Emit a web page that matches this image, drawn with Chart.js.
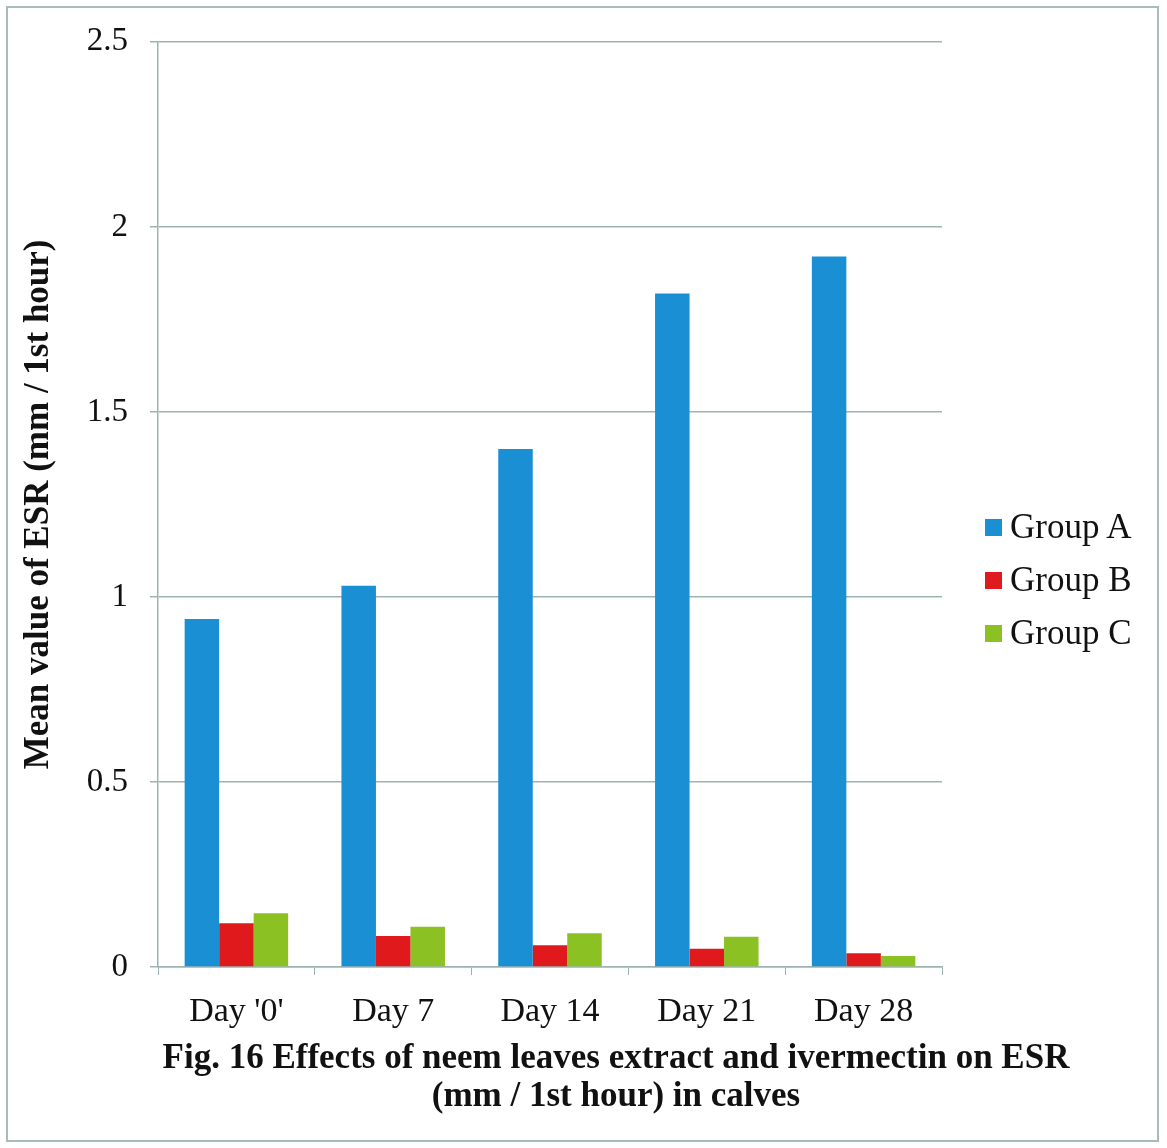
<!DOCTYPE html>
<html>
<head>
<meta charset="utf-8">
<script src="https://cdn.jsdelivr.net/npm/chart.js@4.4.1/dist/chart.umd.min.js"></script>
<style>
  html, body { margin: 0; padding: 0; background: #fff; }
  #wrap { position: relative; width: 1167px; height: 1148px; }
  #frame { position: absolute; left: 6px; top: 6px; width: 1153px; height: 1136px; border: 2px solid #a9bcbc; box-sizing: border-box; pointer-events: none; }
  #legend { position: absolute; left: 985px; top: 500px; font-family: "Liberation Serif", "Times New Roman", serif; font-size: 35px; color: #111; }
  #legend div { height: 53px; line-height: 53px; white-space: nowrap; }
  #legend span.sw { display: inline-block; width: 17px; height: 17px; margin-right: 8px; vertical-align: 2px; }
  #caption { position: absolute; left: 66px; width: 1100px; top: 1038px; text-align: center; font-family: "Liberation Serif", "Times New Roman", serif; font-weight: bold; font-size: 35px; line-height: 38px; color: #111; white-space: nowrap; }
</style>
</head>
<body>
<div id="wrap">
  <canvas id="chart" width="1167" height="1148"></canvas>
  <div id="legend"></div>
  <div id="caption">Fig. 16 Effects of neem leaves extract and ivermectin on ESR<br>(mm / 1st hour) in calves</div>
  <div id="frame"></div>
</div>
<script>
// ============================================================================
// DATA
// ============================================================================

const days = ["Day '0'", 'Day 7', 'Day 14', 'Day 21', 'Day 28'];
const groupA = [0.94, 1.03, 1.40, 1.82, 1.92];
const groupB = [0.118, 0.084, 0.059, 0.049, 0.037];
const groupC = [0.145, 0.109, 0.091, 0.082, 0.030];
const seriesNames = ['Group A', 'Group B', 'Group C'];
const seriesColors = ['#1b8fd4', '#e01a1c', '#8cc123'];
const yTicks = [0, 0.5, 1, 1.5, 2, 2.5];

const gridColor = '#9db3b2';
const serif = '"Liberation Serif", "Times New Roman", serif';

// ============================================================================
// CHART
// ============================================================================

const seriesData = [groupA, groupB, groupC];

const ctx = document.getElementById('chart').getContext('2d');
const chart = new Chart(ctx, {
    type: 'bar',
    data: {
        labels: days,
        datasets: seriesNames.map((name, i) => ({
            label: name,
            data: seriesData[i],
            backgroundColor: seriesColors[i],
            borderWidth: 0,
            barPercentage: 1,
            categoryPercentage: 0.66
        }))
    },
    options: {
        responsive: false,
        animation: false,
        layout: {
            padding: { left: 18, right: 225, top: 40, bottom: 101 }
        },
        plugins: {
            legend: { display: false },
            tooltip: { enabled: false },
            title: { display: false }
        },
        scales: {
            x: {
                afterFit: scale => { scale.height = 80; },
                grid: {
                    display: true,
                    offset: true,
                    drawOnChartArea: false,
                    drawTicks: true,
                    tickLength: 8,
                    color: gridColor
                },
                border: { display: true, color: gridColor, width: 1.5 },
                ticks: {
                    color: '#111',
                    font: { family: serif, size: 34 },
                    padding: 17
                }
            },
            y: {
                min: 0,
                max: 2.5,
                afterFit: scale => { scale.width = 140; },
                afterBuildTicks: axis => {
                    axis.ticks = yTicks.map(v => ({ value: v }));
                },
                grid: {
                    color: gridColor,
                    lineWidth: 1.5,
                    tickLength: 8
                },
                border: { display: true, color: gridColor, width: 1.5 },
                ticks: {
                    color: '#111',
                    font: { family: serif, size: 33 },
                    padding: 22,
                    callback: value => String(value)
                },
                title: {
                    display: true,
                    text: 'Mean value of ESR (mm / 1st hour)',
                    color: '#111',
                    font: { family: serif, size: 35, weight: 'bold' },
                    padding: { top: 0, bottom: 0 }
                }
            }
        }
    }
});

// HTML legend built from the same series arrays
const legendEl = document.getElementById('legend');
seriesNames.forEach((name, i) => {
    const row = document.createElement('div');
    const sw = document.createElement('span');
    sw.className = 'sw';
    sw.style.background = seriesColors[i];
    row.appendChild(sw);
    row.appendChild(document.createTextNode(name));
    legendEl.appendChild(row);
});
</script>
</body>
</html>
